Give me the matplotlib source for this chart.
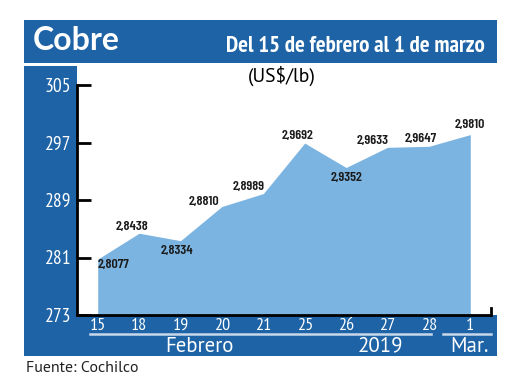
import matplotlib
matplotlib.use('agg')
import matplotlib.pyplot as plt
import matplotlib.transforms as mtransforms
from matplotlib.patches import Rectangle

# datos (precio del cobre, US$/lb)
dias = ['15', '18', '19', '20', '21', '25', '26', '27', '28', '1']
precio = [2.8077, 2.8438, 2.8334, 2.8810, 2.8989, 2.9692, 2.9352, 2.9633, 2.9647, 2.9810]
y_ticks = [273, 281, 289, 297, 305]

# offsets of the value labels, in pixels (dx, dy)
offs = [(16, -6), (-7, 6), (-4, -10), (-18, 4), (-15, 7),
        (-7, 7), (0, -10), (-15, 6), (-8, 7), (0, 10)]

azul = '#1d63a6'
celeste = '#7cb4e1'
narrow = ['PT Sans Narrow', 'Barlow Condensed', 'DejaVu Sans']
sans = ['PT Sans', 'Open Sans', 'DejaVu Sans']
cond_bold = ['Barlow Condensed', 'PT Sans Narrow', 'DejaVu Sans']

W, H = 520, 390
fig = plt.figure(figsize=(W / 100, H / 100), dpi=100)


def box(x0, y0, x1, y1, color):
    # pixel coords, measured from the top left
    fig.patches.append(Rectangle((x0 / W, 1 - y1 / H), (x1 - x0) / W, (y1 - y0) / H,
                                 transform=fig.transFigure, color=color, lw=0, zorder=-1))


box(24, 20, 497, 63, azul)     # header
box(24, 66, 77, 356, azul)     # left column
box(24, 315, 497, 356, azul)   # bottom bar

ax = fig.add_axes([77 / W, 1 - 315 / H, (491 - 77) / W, (315 - 85) / H])
x = list(range(len(dias)))
yv = [p * 100 for p in precio]
ax.fill_between(x, yv, 273, color=celeste, lw=0)

for i, (p, v) in enumerate(zip(precio, yv)):
    ax.annotate(f'{p:.4f}'.replace('.', ','), (i, v), xytext=offs[i],
                textcoords='offset pixels', ha='center', va='center',
                fontsize=10, fontweight=600, family=cond_bold, color='#1a1a1a')

ax.set_xlim(-0.5, 9.5)
ax.set_ylim(273, 305)
ax.set_yticks(y_ticks)
ax.set_xticks(x)
ax.set_xticklabels(dias)
ax.tick_params(axis='y', direction='in', length=10, width=2, pad=4,
               labelcolor='white', labelsize=14)
ax.tick_params(axis='x', length=0, pad=2, labelcolor='white', labelsize=13)
for lab in ax.get_yticklabels() + ax.get_xticklabels():
    lab.set_family(narrow)

for s in ['top', 'right']:
    ax.spines[s].set_visible(False)
for s in ['left', 'bottom']:
    ax.spines[s].set_linewidth(2)
ax.plot([1, 1], [0, 0.03], transform=ax.transAxes, color='black', lw=2, clip_on=False)

# underlines and month labels in the bottom bar
bt = mtransforms.blended_transform_factory(ax.transData, fig.transFigure)
ly = 1 - 333.5 / H
ax.plot([-0.19, 8.05], [ly, ly], transform=bt, color='#c9d7ea', lw=1.8, clip_on=False)
ax.plot([8.33, 9.5], [ly, ly], transform=bt, color='#c9d7ea', lw=1.8, clip_on=False)
ty = 1 - 346 / H
for lbl, xc in [('Febrero', 2.45), ('2019', 6.84), ('Mar.', 8.97)]:
    ax.text(xc, ty, lbl, transform=bt, ha='center', va='center', color='white',
            fontsize=15, family=sans)

fig.text(33 / W, 1 - 40 / H, 'Cobre', ha='left', va='center', color='white',
         fontsize=23, fontweight='bold', family=['Lato', 'DejaVu Sans'])
fig.text(485 / W, 1 - 52 / H, 'Del 15 de febrero al 1 de marzo', ha='right', va='baseline',
         color='white', fontsize=16.5, fontweight='bold', family=narrow)
fig.text(282 / W, 1 - 76 / H, '(US$/lb)', ha='center', va='center', fontsize=14, family=sans)
fig.text(26 / W, 1 - 368 / H, 'Fuente: Cochilco', ha='left', va='center', fontsize=11.5,
         color='#222222', family=sans)

plt.savefig('out.png', dpi=100)
